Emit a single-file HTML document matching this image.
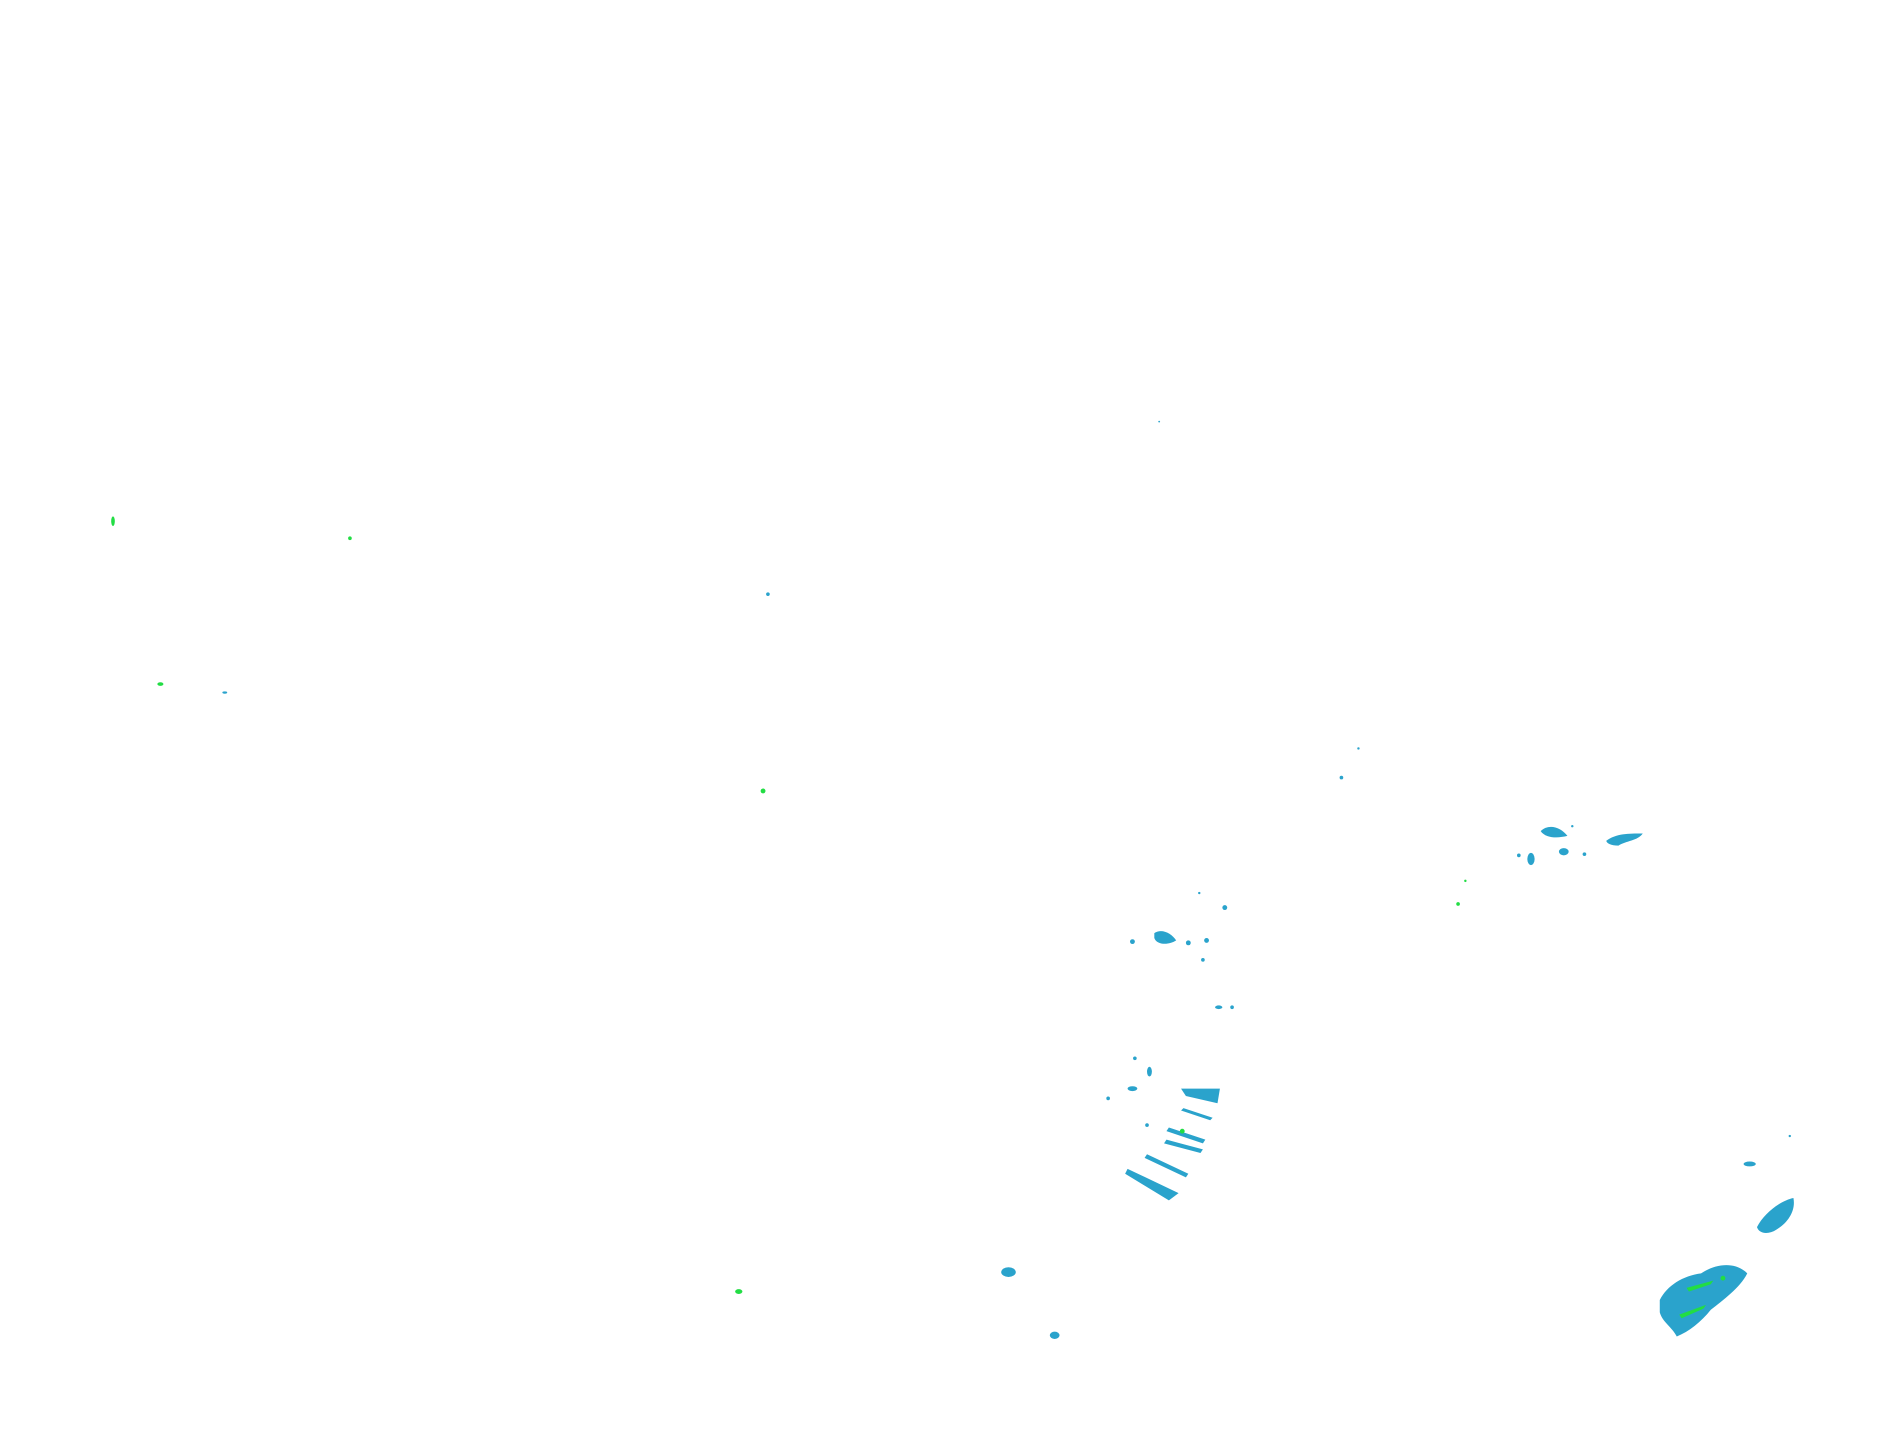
<!DOCTYPE html>
<html><head><meta charset="utf-8"><style>
html,body{margin:0;padding:0;background:#fff;width:1904px;height:1441px;overflow:hidden}
</style></head><body>
<svg width="1904" height="1441" viewBox="0 0 1567 1186" preserveAspectRatio="none" xmlns="http://www.w3.org/2000/svg">
<g fill="#2aa3cc">
<path d="M1366,1070 C1372,1058 1385,1050 1400,1048 C1412,1040 1428,1038 1438,1048 C1432,1060 1418,1070 1408,1078 C1400,1088 1390,1096 1380,1100 C1376,1092 1368,1088 1366,1080 Z"/>
<path d="M1446,1010 C1452,998 1466,988 1476,986 C1478,996 1472,1006 1462,1012 C1456,1016 1448,1016 1446,1010 Z"/>
<ellipse cx="1440" cy="958" rx="5" ry="2"/>
<circle cx="1473" cy="935" r="1"/>
<path d="M972,896 L1004,896 L1002,908 L976,902 Z"/>
<path d="M974,912 L998,920 L996,922 L972,914 Z"/>
<path d="M962,928 L992,938 L990,941 L960,931 Z"/>
<path d="M960,938 L990,946 L988,949 L958,941 Z"/>
<path d="M944,950 L978,966 L976,969 L942,953 Z"/>
<path d="M928,962 L970,982 L962,988 L926,966 Z"/>
<ellipse cx="932" cy="896" rx="4" ry="2"/>
<ellipse cx="946" cy="882" rx="2" ry="4"/>
<circle cx="934" cy="871" r="1.5"/><circle cx="912" cy="904" r="1.5"/><circle cx="944" cy="926" r="1.5"/>
<path d="M950,768 C956,764 964,768 968,774 C962,778 952,778 950,772 Z"/>
<circle cx="932" cy="775" r="2"/><circle cx="978" cy="776" r="2"/><circle cx="993" cy="774" r="2"/><circle cx="990" cy="790" r="1.5"/>
<circle cx="1008" cy="747" r="2"/><circle cx="987" cy="735" r="1"/>
<ellipse cx="1003" cy="829" rx="3" ry="1.5"/><circle cx="1014" cy="829" r="1.5"/>
<path d="M1268,684 C1274,678 1284,680 1290,688 C1282,690 1272,690 1268,684 Z"/>
<ellipse cx="1287" cy="701" rx="4" ry="3"/><ellipse cx="1260" cy="707" rx="3" ry="5"/>
<path d="M1322,692 C1330,686 1340,686 1352,686 C1348,692 1338,692 1332,696 C1326,696 1322,694 1322,692 Z"/>
<circle cx="1304" cy="703" r="1.5"/><circle cx="1250" cy="704" r="1.5"/><circle cx="1294" cy="680" r="1"/>
<circle cx="1104" cy="640" r="1.5"/><circle cx="1118" cy="616" r="1"/>
<ellipse cx="830" cy="1047" rx="6" ry="4"/>
<ellipse cx="868" cy="1099" rx="4" ry="3"/>
<circle cx="632" cy="489" r="1.5"/><ellipse cx="185" cy="570" rx="2" ry="1"/>
<circle cx="954" cy="347" r="0.7"/>
</g>
<g fill="#22dd44">
<path d="M1388,1060 L1410,1054 L1408,1057 L1390,1063 Z"/>
<path d="M1382,1082 L1404,1074 L1402,1077 L1384,1085 Z"/>
<circle cx="1418" cy="1052" r="2"/>
<circle cx="1200" cy="744" r="1.5"/><circle cx="1206" cy="725" r="1"/>
<circle cx="628" cy="651" r="2"/>
<ellipse cx="608" cy="1063" rx="3" ry="2"/>
<ellipse cx="93" cy="429" rx="1.5" ry="4"/>
<circle cx="288" cy="443" r="1.5"/>
<ellipse cx="132" cy="563" rx="2.5" ry="1.5"/>
<circle cx="973" cy="931" r="2"/>
</g>
</svg>
</body></html>
